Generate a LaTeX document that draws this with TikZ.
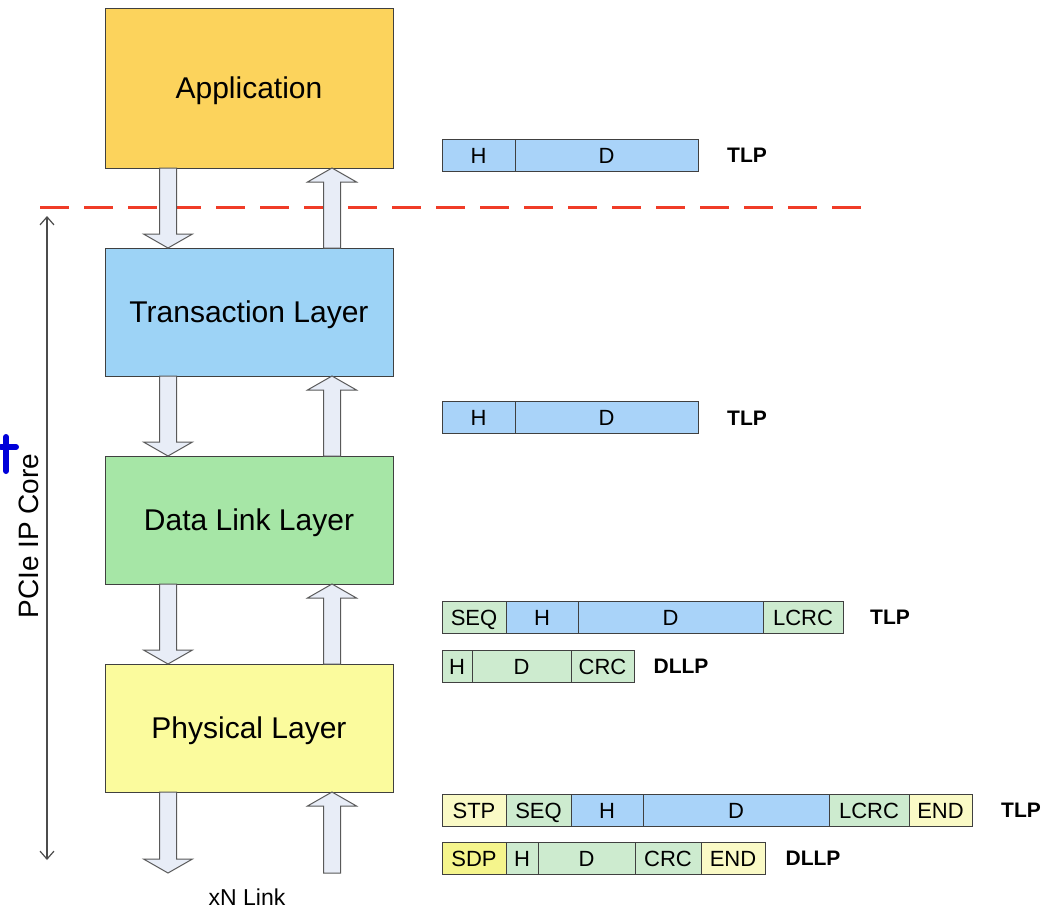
\documentclass[tikz,border=0pt]{standalone}
\usepackage{fontspec}
\setmainfont{Liberation Sans}
\usetikzlibrary{positioning,calc,arrows.meta}

\begin{document}
\begin{tikzpicture}
    [x=1pt,y=-1pt,
    % Styles
    layer/.style={draw=black!75, line width=1pt, minimum width=288pt, outer sep=0pt,
      text height=21.5pt, text depth=0pt, font=\fontsize{30}{36}\selectfont},
    field/.style={draw=black!75, line width=1pt, minimum height=32pt, inner sep=0pt,
      text height=16pt, text depth=0pt, font=\fontsize{22}{26}\selectfont},
    tag/.style={text height=15pt, text depth=0pt, font=\fontsize{21}{25}\selectfont\bfseries},
    fat arrow/.style={draw=black!65, fill=arrowfill, line width=1pt,
      to path={let \p1=(\tikztostart), \p2=(\tikztotarget),
        \n1={\y2-sign(\y2-\y1)*14pt} in
        (\x1-8.5pt,\y1) -- (\x1-8.5pt,\n1*1pt) -- (\x1-24.5pt,\n1*1pt) -- (\x1,\y2)
        -- (\x1+24.5pt,\n1*1pt) -- (\x1+8.5pt,\n1*1pt) -- (\x1+8.5pt,\y1) -- cycle}}]

    % Colors
    \definecolor{appcolor}{HTML}{FCD35C}
    \definecolor{tlcolor}{HTML}{9DD3F6}
    \definecolor{dlcolor}{HTML}{A6E6A6}
    \definecolor{phycolor}{HTML}{FBFB9D}
    \definecolor{tlpcolor}{HTML}{A9D3F9}
    \definecolor{dllpcolor}{HTML}{CDEBCF}
    \definecolor{framecolor}{HTML}{FAFAC6}
    \definecolor{sdpcolor}{HTML}{F5F58C}
    \definecolor{arrowfill}{HTML}{E8EDF7}
    \definecolor{cutcolor}{HTML}{F03C28}

    \useasboundingbox (0,0) rectangle (1049,911);

    % Layer stack
    \node[layer, fill=appcolor, minimum height=160pt] (app) at (249,88) {Application};
    \node[layer, fill=tlcolor, minimum height=128pt, below=80pt of app] (trans) {Transaction Layer};
    \node[layer, fill=dlcolor, minimum height=128pt, below=80pt of trans] (dl) {Data Link Layer};
    \node[layer, fill=phycolor, minimum height=128pt, below=80pt of dl] (phy) {Physical Layer};

    % Boundary of the core
    \draw[cutcolor, line width=3pt, dash pattern=on 29pt off 15pt] (40,207) -- (862,207);

    % Data paths between layers
    \coordinate (dn) at (168,0);
    \coordinate (up) at (332,0);
    \coordinate (linkdn) at (168,873);
    \coordinate (linkup) at (332,873);
    \draw[fat arrow] (app.south -| dn) to (trans.north -| dn);
    \draw[fat arrow] (trans.north -| up) to (app.south -| up);
    \draw[fat arrow] (trans.south -| dn) to (dl.north -| dn);
    \draw[fat arrow] (dl.north -| up) to (trans.south -| up);
    \draw[fat arrow] (dl.south -| dn) to (phy.north -| dn);
    \draw[fat arrow] (phy.north -| up) to (dl.south -| up);
    \draw[fat arrow] (phy.south -| dn) to (linkdn);
    \draw[fat arrow] (linkup) to (phy.south -| up);
    \node[font=\fontsize{23}{27}\selectfont, text height=17pt, text depth=0pt] (link) at (247,897) {xN Link};

    % Extent of the core
    \coordinate (coretop) at (47,216);
    \coordinate (corebot) at (47,860);
    \draw[black!70, line width=1.2pt, {Straight Barb[length=8pt,width=14pt]}-{Straight Barb[length=8pt,width=14pt]}]
      (coretop) -- (corebot);
    \node[rotate=90, font=\fontsize{28}{32}\selectfont] (core) at (29,536) {PCIe IP Core};
    \draw[blue!85!black, line width=6pt, line cap=round] (6,437) -- (6,471) (1,447) -- (16,447);

    % Packets above the transaction layer
    \foreach \i/\lbl/\xa/\xb/\col in {1/H/442/515/tlpcolor, 2/D/515/698/tlpcolor}
      \node[field, fill=\col, minimum width={\xb-\xa}] (ra\i) at ({(\xa+\xb)/2},155) {\lbl};
    \node[tag] (ra-tag) at (747,155) {TLP};

    % Packets between transaction and data link layer
    \foreach \i/\lbl/\xa/\xb/\col in {1/H/442/515/tlpcolor, 2/D/515/698/tlpcolor}
      \node[field, fill=\col, minimum width={\xb-\xa}] (rb\i) at ({(\xa+\xb)/2},417) {\lbl};
    \node[tag] (rb-tag) at (747,418) {TLP};

    % Packets between data link and physical layer
    \foreach \i/\lbl/\xa/\xb/\col in {1/SEQ/442/506/dllpcolor, 2/H/506/578/tlpcolor,
        3/D/578/763/tlpcolor, 4/LCRC/763/843/dllpcolor}
      \node[field, fill=\col, minimum width={\xb-\xa}] (rc\i) at ({(\xa+\xb)/2},617) {\lbl};
    \node[tag] (rc-tag) at (890,617) {TLP};
    \foreach \i/\lbl/\xa/\xb/\col in {1/H/442/472/dllpcolor, 2/D/472/571/dllpcolor,
        3/CRC/571/634/dllpcolor}
      \node[field, fill=\col, minimum width={\xb-\xa}] (rd\i) at ({(\xa+\xb)/2},666) {\lbl};
    \node[tag] (rd-tag) at (681,666) {DLLP};

    % Packets on the link
    \foreach \i/\lbl/\xa/\xb/\col in {1/STP/442/506/framecolor, 2/SEQ/506/571/dllpcolor,
        3/H/571/643/tlpcolor, 4/D/643/829/tlpcolor, 5/LCRC/829/909/dllpcolor,
        6/END/909/972/framecolor}
      \node[field, fill=\col, minimum width={\xb-\xa}] (re\i) at ({(\xa+\xb)/2},810) {\lbl};
    \node[tag] (re-tag) at (1021,810) {TLP};
    \foreach \i/\lbl/\xa/\xb/\col in {1/SDP/442/506/sdpcolor, 2/H/506/538/dllpcolor,
        3/D/538/635/dllpcolor, 4/CRC/635/701/dllpcolor, 5/END/701/765/framecolor}
      \node[field, fill=\col, minimum width={\xb-\xa}] (rf\i) at ({(\xa+\xb)/2},858) {\lbl};
    \node[tag] (rf-tag) at (813,858) {DLLP};
\end{tikzpicture}
\end{document}
